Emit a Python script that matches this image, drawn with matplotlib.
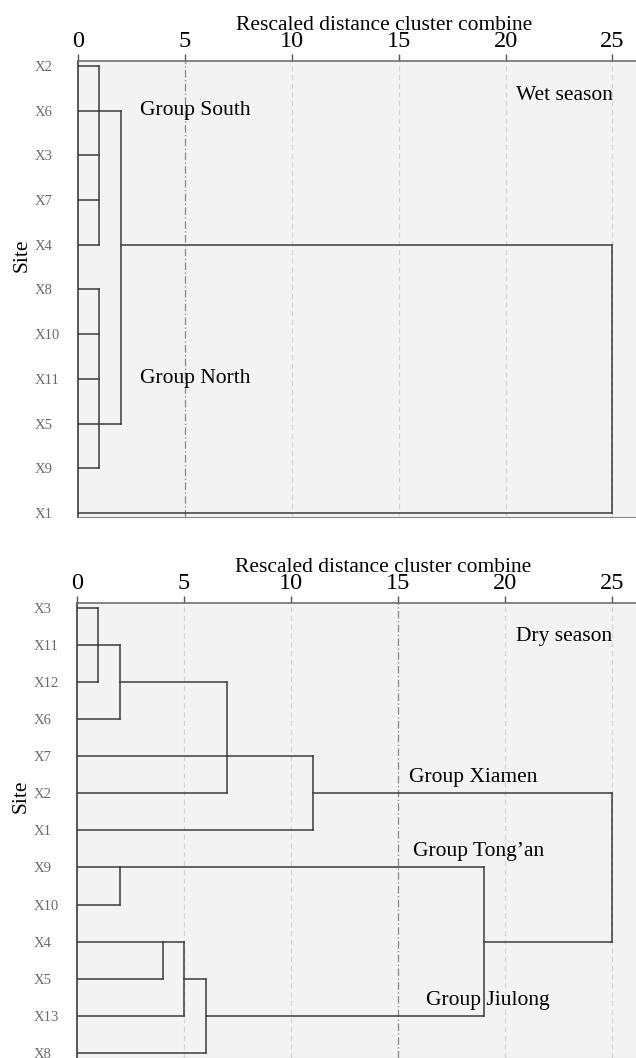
import matplotlib
matplotlib.use('Agg')
import matplotlib.pyplot as plt

plt.rcParams['font.family'] = ['Liberation Serif', 'DejaVu Serif']

# 데이터: 잎 순서와 병합 단계 (이름, 자식, 거리, 다음 가로선 행)
wet_sites = ['X2', 'X6', 'X3', 'X7', 'X4', 'X8', 'X10', 'X11', 'X5', 'X9', 'X1']
wet_merges = [
    ('S', ['X2', 'X6', 'X3', 'X7', 'X4'], 1, 'X6'),
    ('N', ['X8', 'X10', 'X11', 'X5', 'X9'], 1, 'X5'),
    ('SN', ['S', 'N'], 2, 'X4'),
    ('root', ['SN', 'X1'], 25, None),
]
wet_groups = [('Group South', 2.9, 'X6', 0.0), ('Group North', 2.9, 'X11', 0.0)]

dry_sites = ['X3', 'X11', 'X12', 'X6', 'X7', 'X2', 'X1', 'X9', 'X10', 'X4', 'X5', 'X13', 'X8']
dry_merges = [
    ('a', ['X3', 'X11', 'X12'], 1, 'X11'),
    ('b', ['a', 'X6'], 2, 'X12'),
    ('c', ['b', 'X7', 'X2'], 7, 'X7'),
    ('d', ['c', 'X1'], 11, 'X2'),
    ('e', ['X9', 'X10'], 2, 'X9'),
    ('f', ['X4', 'X5'], 4, 'X4'),
    ('g', ['f', 'X13'], 5, 'X5'),
    ('h', ['g', 'X8'], 6, 'X13'),
    ('i', ['e', 'h'], 19, 'X4'),
    ('root', ['d', 'i'], 25, None),
]
dry_groups = [('Group Xiamen', 15.5, 'X7', 0.57), ('Group Tong\u2019an', 15.7, 'X1', 0.58),
              ('Group Jiulong', 16.3, 'X5', 0.6)]

x_ticks = [0, 5, 10, 15, 20, 25]
LINE = '#3c3c3c'


def draw_dendro(ax, sites, merges):
    pos = {s: (0, i) for i, s in enumerate(sites)}
    row = {s: i for i, s in enumerate(sites)}
    for name, children, h, out in merges:
        ys = []
        for c in children:
            cx, cy = pos[c]
            ax.plot([cx, h], [cy, cy], color=LINE, lw=1.1, zorder=3)
            ys.append(cy)
        ax.plot([h, h], [min(ys), max(ys)], color=LINE, lw=1.1, zorder=3)
        if out is not None:
            pos[name] = (h, row[out])
    return row


def setup(ax, sites, merges, strong, ylim, season, season_y, groups):
    ax.set_facecolor('#f3f3f3')
    row = draw_dendro(ax, sites, merges)
    ax.set_xlim(0, 26.1)
    ax.set_ylim(ylim[1], ylim[0])
    for t in x_ticks[1:]:
        if t == strong:
            ax.axvline(t, color='#888888', lw=0.9, ls=(0, (6, 2, 1, 2)), zorder=1)
        else:
            ax.axvline(t, color='#d4d4d4', lw=0.9, ls=(0, (4, 3)), zorder=1)
    ax.xaxis.tick_top()
    ax.set_xticks(x_ticks)
    ax.tick_params(axis='x', direction='out', length=5, width=1, color='#555555',
                   labelsize=17.5, pad=1.5)
    ax.set_yticks(range(len(sites)))
    ax.set_yticklabels(sites)
    ax.tick_params(axis='y', length=0, labelsize=10.5, labelcolor='#6a6a6a', pad=31.5)
    for lab in ax.get_yticklabels():
        lab.set_horizontalalignment('left')
    ax.spines['right'].set_visible(False)
    ax.spines['top'].set_color('#6f6f6f')
    ax.spines['top'].set_linewidth(1.2)
    ax.spines['left'].set_color('#3c3c3c')
    ax.spines['left'].set_linewidth(1.2)
    ax.spines['bottom'].set_color('#888888')
    ax.text(0.548, 1.069, 'Rescaled distance cluster combine', transform=ax.transAxes,
            ha='center', va='baseline', fontsize=15.5)
    ax.text(-0.1, 0.575, 'Site', transform=ax.transAxes, rotation=90,
            ha='center', va='center', fontsize=15.5)
    ax.text(25, season_y, season, ha='right', va='center', fontsize=15.5, zorder=4)
    for label, gx, grow, off in groups:
        ax.text(gx, row[grow] + off, label, ha='left', va='center', fontsize=15.5, zorder=4)


fig = plt.figure(figsize=(6.36, 10.58), dpi=100)
ax1 = fig.add_axes([0.1226, 0.5113, 0.8774, 0.4310])
ax2 = fig.add_axes([0.1211, 0.0, 0.8789, 0.4301])

setup(ax1, wet_sites, wet_merges, 5, (-0.11, 10.09), 'Wet season', 0.67, wet_groups)
setup(ax2, dry_sites, dry_merges, 15, (-0.135, 12.14), 'Dry season', 0.78, dry_groups)

fig.savefig('out.png', dpi=100)
